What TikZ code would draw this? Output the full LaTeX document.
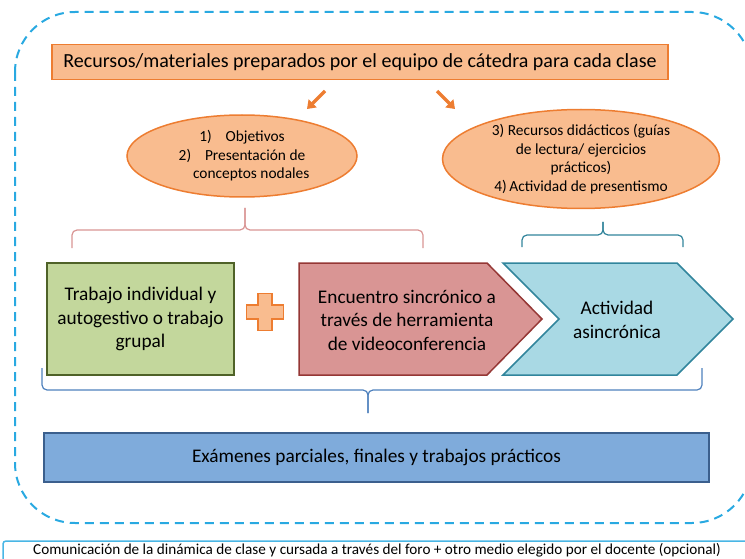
\documentclass[tikz,border=0pt]{standalone}
\usepackage{fontspec}
\setmainfont{Carlito}
\usetikzlibrary{shapes.geometric, arrows.meta, positioning, calc}
\definecolor{dashblue}{HTML}{29A9E1}
\definecolor{orline}{HTML}{ED7D31}
\definecolor{orfill}{HTML}{F9BC8F}
\definecolor{grfill}{HTML}{C3D79C}
\definecolor{grline}{HTML}{4F6228}
\definecolor{rdfill}{HTML}{D99594}
\definecolor{rdline}{HTML}{953735}
\definecolor{cyfill}{HTML}{A9D9E4}
\definecolor{cyline}{HTML}{31859C}
\definecolor{exfill}{HTML}{7FABDB}
\definecolor{exline}{HTML}{3B5F8D}
\definecolor{pkbrace}{HTML}{D99594}
\definecolor{tlbrace}{HTML}{31849B}
\definecolor{blbrace}{HTML}{4F81BD}

\begin{document}
\begin{tikzpicture}[x=1pt, y=-1pt, align=center,
    box/.style={draw, line width=1.5pt, inner sep=0pt},
    oval/.style={ellipse, draw=orline, fill=orfill, line width=1.5pt, inner sep=0pt, font=\fontsize{15.4}{18.5}\selectfont},
    big/.style={font=\fontsize{19.3}{23.5}\selectfont},
    brc/.style={line width=1.2pt, rounded corners=5pt},
    fat/.style={orline, line width=3.5pt, -{Triangle[length=8pt,width=11pt]}}]
    \useasboundingbox (0,0) rectangle (745,559);
    \draw[dashblue, line width=2pt, dash pattern=on 9pt off 6pt, rounded corners=60pt] (15,12) rectangle (752,523);

    % top
    \node[box, draw=orline, fill=orfill, minimum width=616pt, minimum height=35pt, font=\fontsize{20}{24}\selectfont] (res) at (360,62) {Recursos/materiales preparados por el equipo de cátedra para cada clase};
    \coordinate (la) at (325,91);
    \coordinate (lb) at (307,109);
    \coordinate (ra) at (437,91);
    \coordinate (rb) at (455,109);
    \draw[fat] (la) -- (lb);
    \draw[fat] (ra) -- (rb);
    \node[oval, minimum width=230pt, minimum height=82pt] (obj) at (242,156) {1)\hspace{0.9em}Objetivos\\2)\hspace{0.9em}Presentación de\\\hspace{1.2em}conceptos nodales};
    \node[oval, minimum width=277pt, minimum height=99pt] (rec) at (581,159) {3) Recursos didácticos (guías\\de lectura/ ejercicios\\prácticos)\\4)\,Actividad de presentismo};

    % braces
    \coordinate (pkL) at (72,248);
    \coordinate (pkR) at (423,248);
    \coordinate (pkT) at (245,208);
    \draw[brc, pkbrace] (pkL) |- ($(pkT)+(0,22)$) -- (pkT);
    \draw[brc, pkbrace] (pkR) |- ($(pkT)+(0,22)$) -- (pkT);
    \coordinate (tlL) at (522,247);
    \coordinate (tlR) at (683,247);
    \coordinate (tlT) at (603,222);
    \draw[brc, tlbrace] (tlL) |- ($(tlT)+(0,13)$) -- (tlT);
    \draw[brc, tlbrace] (tlR) |- ($(tlT)+(0,13)$) -- (tlT);

    % middle row
    \node[box, draw=grline, fill=grfill, minimum width=187pt, minimum height=112pt, big] (trab) at (140.5,319) {Trabajo individual y\\autogestivo o trabajo\\grupal};
    \draw[orline, fill=orfill, line width=1.5pt, shift={(265,312)}] (-7,-18.5) -- (7,-18.5) -- (7,-7) -- (18.5,-7) -- (18.5,7) -- (7,7) -- (7,18.5) -- (-7,18.5) -- (-7,7) -- (-18.5,7) -- (-18.5,-7) -- (-7,-7) -- cycle;
    \draw[rdline, fill=rdfill, line width=1.5pt] (299,263) -- (487,263) -- (542,319) -- (487,375) -- (299,375) -- cycle;
    \node[big] (enc) at (407,320) {Encuentro sincrónico a\\través de herramienta\\de videoconferencia};
    \draw[cyline, fill=cyfill, line width=1.5pt] (503,263) -- (677,263) -- (733,319) -- (677,375) -- (503,375) -- (559,319) -- cycle;
    \node[big] (asin) at (617,320) {Actividad\\asincrónica};

    \coordinate (blL) at (42,368);
    \coordinate (blR) at (702,368);
    \coordinate (blT) at (368,413);
    \draw[brc, blbrace] (blL) |- ($(blT)+(0,-23)$) -- (blT);
    \draw[brc, blbrace] (blR) |- ($(blT)+(0,-23)$) -- (blT);

    % bottom
    \node[box, draw=exline, fill=exfill, minimum width=665pt, minimum height=49pt, font=\fontsize{19.3}{23}\selectfont] (exa) at (376.5,457.5) {Exámenes parciales, finales y trabajos prácticos};
    \draw[dashblue!85, line width=1.5pt, rounded corners=3pt] (3,541) rectangle (760,580);
    \node[font=\fontsize{15.2}{18}\selectfont] (com) at (377,550) {Comunicación de la dinámica de clase y cursada a través del foro + otro medio elegido por el docente (opcional)};
\end{tikzpicture}
\end{document}
